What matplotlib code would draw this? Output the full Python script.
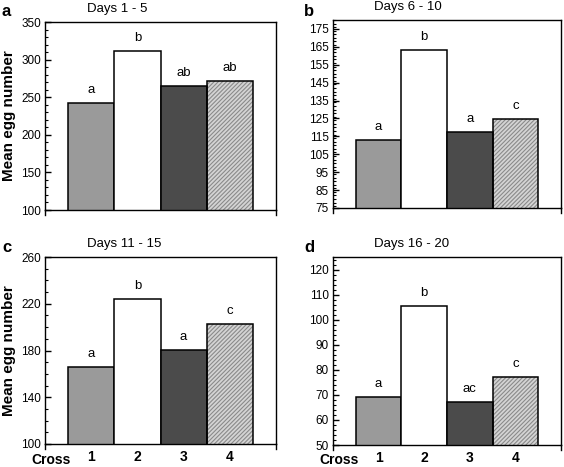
import matplotlib
matplotlib.use('Agg')
import matplotlib.pyplot as plt
from matplotlib.ticker import MultipleLocator

plt.rcParams['font.family'] = ['Liberation Sans', 'DejaVu Sans']
plt.rcParams['hatch.linewidth'] = 0.8

crosses = ['1', '2', '3', '4']
panels = ['a', 'b', 'c', 'd']
titles = ['Days 1 - 5', 'Days 6 - 10', 'Days 11 - 15', 'Days 16 - 20']
eggs_1_5 = [242, 312, 265, 271]
eggs_6_10 = [113, 163, 117.5, 124.5]
eggs_11_15 = [166, 224, 180.5, 203]
eggs_16_20 = [69, 105.3, 67.3, 77.3]
letters_1_5 = ['a', 'b', 'ab', 'ab']
letters_6_10 = ['a', 'b', 'a', 'c']
letters_11_15 = ['a', 'b', 'a', 'c']
letters_16_20 = ['a', 'b', 'ac', 'c']

values = [eggs_1_5, eggs_6_10, eggs_11_15, eggs_16_20]
letters = [letters_1_5, letters_6_10, letters_11_15, letters_16_20]
ylims = [(100, 350), (75, 180), (100, 260), (50, 125)]
majors = [50, 10, 40, 10]
minors = [10, 2, 10, 2]
ystarts = [100, 75, 100, 50]

W, H = 564, 467
fig = plt.figure(figsize=(W / 100, H / 100), dpi=100)

# axes boxes in pixels: left, top, right, bottom
boxes = [(45, 22, 276, 210), (333, 20, 561, 208),
         (45, 257, 276, 444), (333, 257, 561, 445)]
letter_pos = [(2, 11), (304, 11), (2, 248), (304, 248)]

bar_colors = ['#9a9a9a', 'white', '#4b4b4b', '#d4d4d4']
x = [1, 2, 3, 4]

for i in range(4):
    l, t, r, b = boxes[i]
    ax = fig.add_axes([l / W, 1 - b / H, (r - l) / W, (b - t) / H])
    vals = values[i]

    # hatched bar underneath, then the outlined bars on top
    ax.bar(x[3], vals[3], width=1, color=bar_colors[3], edgecolor='#8a8a8a',
           hatch='////////', linewidth=0)
    for j in range(4):
        fc = 'none' if j == 3 else bar_colors[j]
        ax.bar(x[j], vals[j], width=1, facecolor=fc, edgecolor='black', linewidth=1.1)
        ax.annotate(letters[i][j], (x[j], vals[j]), xytext=(0, 5),
                    textcoords='offset points', ha='center', va='bottom', fontsize=9.5)

    ax.set_xlim(0, 5)
    ax.set_ylim(*ylims[i])
    lo, hi = ylims[i]
    ax.set_yticks(list(range(ystarts[i], int(hi) + 1, majors[i])))
    ax.yaxis.set_minor_locator(MultipleLocator(minors[i]))
    ax.tick_params(axis='y', which='major', direction='in', length=4, width=1,
                   labelsize=8.5, pad=3)
    ax.tick_params(axis='y', which='minor', direction='in', length=2, width=0.8)
    ax.tick_params(axis='y', right=False)
    for sp in ax.spines.values():
        sp.set_linewidth(1)

    if i >= 2:
        ax.set_xticks(x)
        ax.set_xticklabels(crosses, fontsize=10, fontweight='bold')
        ax.tick_params(axis='x', length=0, pad=4)
        ax.text(6 / (r - l), -15.5 / (b - t), 'Cross', transform=ax.transAxes,
                ha='center', va='center', fontsize=10, fontweight='bold')
    else:
        ax.set_xticks([])

    # little spine stubs below the baseline
    for xe in (0, 1):
        ax.plot([xe, xe], [0, -0.025], transform=ax.transAxes, color='black',
                lw=1, clip_on=False)

    ax.text(0.18, 1.0 + 13 / (b - t), titles[i], transform=ax.transAxes,
            ha='left', va='center', fontsize=9.5)
    fig.text(letter_pos[i][0] / W, 1 - letter_pos[i][1] / H, panels[i],
             ha='left', va='center', fontsize=12, fontweight='bold')

    if i % 2 == 0:
        fig.text(9 / W, 1 - ((t + b) / 2) / H, 'Mean egg number', rotation=90,
                 ha='center', va='center', fontsize=11, fontweight='bold')

fig.savefig('out.png', dpi=100)
